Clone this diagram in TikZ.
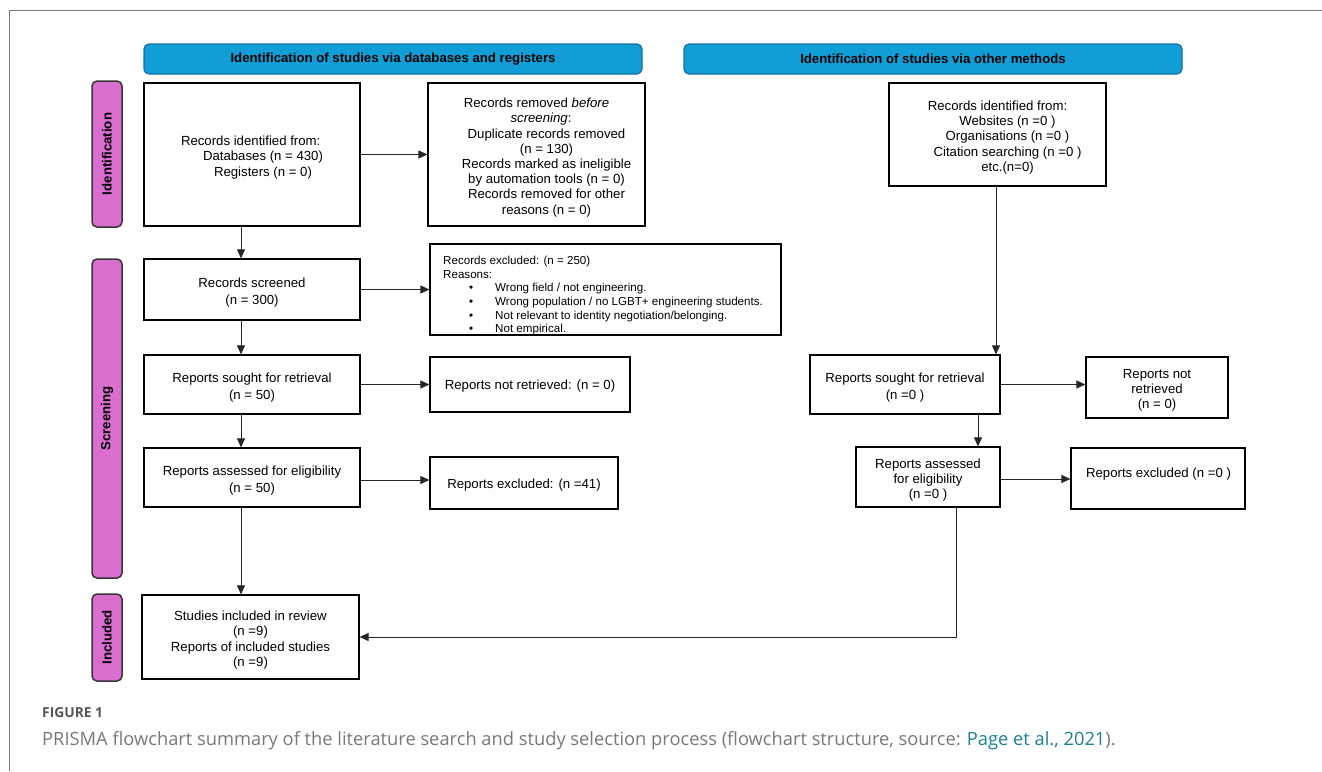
\documentclass[tikz,border=0pt]{standalone}
\usepackage{fontspec}
\setmainfont{Liberation Sans}
\newfontfamily\capfont{Open Sans}
\usetikzlibrary{arrows.meta}
\definecolor{bannerfill}{RGB}{17,158,214}
\definecolor{bannerdraw}{RGB}{20,110,160}
\definecolor{sidefill}{RGB}{217,110,207}
\definecolor{sidedraw}{RGB}{55,55,55}
\definecolor{capgray}{RGB}{120,120,120}
\definecolor{figgray}{RGB}{85,85,85}
\definecolor{linkteal}{RGB}{26,128,150}
\definecolor{framegray}{RGB}{120,120,120}
\tikzset{
  box/.style={draw=black, line width=1.2pt, rectangle, inner sep=0pt, fill=white},
  banner/.style={draw=bannerdraw, fill=bannerfill, line width=1.2pt, rounded corners=5pt,
    minimum width=498pt, minimum height=30pt, inner sep=0pt,
    font=\bfseries\fontsize{13.2}{15}\selectfont},
  sidelbl/.style={draw=sidedraw, fill=sidefill, line width=1.5pt, rounded corners=5pt,
    rotate=90, minimum height=30pt, inner sep=0pt,
    font=\bfseries\fontsize{13.2}{15}\selectfont},
  conn/.style={draw=black!85, line width=0.9pt, -{Triangle[length=9pt,width=8pt]}},
  txt/.style={inner sep=0pt, align=center, font=\fontsize{13.2}{15.2}\selectfont},
}
\begin{document}
\begin{tikzpicture}[x=1pt,y=-1pt]
\useasboundingbox (0,0) rectangle (1322,771);
\draw[framegray, line width=1pt] (1322,10) -- (9,10) -- (9,771);

% banners
\node[banner] (ban1) at (393,59) {Identification of studies via databases and registers};
\node[banner] (ban2) at (933,59) {Identification of studies via other methods};

% side labels
\node[sidelbl, minimum width=146pt] (side1) at (107,154) {Identification};
\node[sidelbl, minimum width=319pt] (side2) at (107,418.5) {Screening};
\node[sidelbl, minimum width=87pt] (side3) at (107,637.5) {Included};

% left column
\node[box, minimum width=216pt, minimum height=143pt] (A) at (252,154.5) {};
\node[txt, align=left] (tA) at ([yshift=-3pt]A.center)
  {Records identified from:\\\hspace*{22pt}Databases (n = 430)\\\hspace*{33pt}Registers (n = 0)};
\node[box, minimum width=217pt, minimum height=143pt] (B) at (536.5,154.5) {};
\node[txt] (tB) at ([yshift=-3pt]B.center)
  {Records removed \textit{before}\\\hspace*{9pt}\textit{screening}:\\
   \hspace*{20pt}Duplicate records removed\\\hspace*{20pt}(n = 130)\\
   \hspace*{20pt}Records marked as ineligible\\\hspace*{20pt}by automation tools (n = 0)\\
   \hspace*{20pt}Records removed for other\\\hspace*{20pt}reasons (n = 0)};
\node[box, minimum width=216pt, minimum height=61pt] (C) at (252,289.5) {};
\node[txt] (tC) at ([yshift=-3pt]C.center) {Records screened\\[2pt](n = 300)};
\node[box, minimum width=351pt, minimum height=91pt] (D) at (605.5,289.5) {};
\begin{scope}
\clip (D.north west) rectangle (D.south east);
\node[inner sep=0pt, anchor=north west, align=left, font=\fontsize{11.6}{13.6}\selectfont] (tD) at (443,256)
  {Records excluded: (n = 250)\\Reasons:\\
   \hspace*{26pt}\makebox[26pt][l]{•}Wrong field / not engineering.\\
   \hspace*{26pt}\makebox[26pt][l]{•}Wrong population / no LGBT+ engineering students.\\
   \hspace*{26pt}\makebox[26pt][l]{•}Not relevant to identity negotiation/belonging.\\
   \hspace*{26pt}\makebox[26pt][l]{•}Not empirical.};
\end{scope}
\draw[black, line width=1.2pt] (D.north west) rectangle (D.south east);
\node[box, minimum width=216pt, minimum height=59pt] (E) at (252,384.5) {};
\node[txt] (tE) at ([yshift=-3pt]E.center) {Reports sought for retrieval\\[2pt](n = 50)};
\node[box, minimum width=200pt, minimum height=55pt] (F) at (530,384.5) {};
\node[txt] (tF) at ([yshift=-2pt]F.center) {Reports not retrieved: (n = 0)};
\node[box, minimum width=216pt, minimum height=59pt] (G) at (252,477.5) {};
\node[txt] (tG) at ([yshift=-3pt]G.center) {Reports assessed for eligibility\\[2pt](n = 50)};
\node[box, minimum width=188pt, minimum height=52pt] (H) at (524,483) {};
\node[txt] (tH) at ([yshift=-2pt]H.center) {Reports excluded: (n =41)};
\node[box, minimum width=217pt, minimum height=84pt] (I) at (250.5,637) {};
\node[txt] (tI) at ([yshift=-3pt]I.center)
  {Studies included in review\\(n =9)\\Reports of included studies\\(n =9)};

% right column
\node[box, minimum width=217pt, minimum height=103pt] (J) at (997.5,134.5) {};
\node[txt] (tJ) at ([yshift=-3pt]J.center)
  {Records identified from:\\\hspace*{20pt}Websites (n =0 )\\\hspace*{20pt}Organisations (n =0 )\\
   \hspace*{20pt}Citation searching (n =0 )\\\hspace*{20pt}etc.(n=0)};
\node[box, minimum width=190pt, minimum height=59pt] (K) at (905,384.5) {};
\node[txt] (tK) at ([yshift=-3pt]K.center) {Reports sought for retrieval\\[1pt](n =0 )};
\node[box, minimum width=142pt, minimum height=61pt] (L) at (1157,387.5) {};
\node[txt] (tL) at ([yshift=-3pt]L.center) {Reports not\\retrieved\\(n = 0)};
\node[box, minimum width=144pt, minimum height=60pt] (M) at (928,477) {};
\node[txt] (tM) at ([yshift=-3pt]M.center) {Reports assessed\\for eligibility\\(n =0 )};
\node[box, minimum width=174pt, minimum height=61pt] (N) at (1158,478.5) {};
\node[txt] (tN) at (1158.5,474) {Reports excluded (n =0 )};

% connectors
\draw[conn] (A.east) -- (B.west);
\draw[conn] ([xshift=-11pt]A.south) -- ([xshift=-11pt]A.south |- C.north);
\draw[conn] (C.east) -- (D.west);
\draw[conn] ([xshift=-11pt]C.south) -- ([xshift=-11pt]C.south |- E.north);
\draw[conn] (E.east) -- (F.west);
\draw[conn] ([xshift=-11pt]E.south) -- ([xshift=-11pt]E.south |- G.north);
\draw[conn] ([yshift=-2.5pt]G.east) -- ([yshift=-2.5pt]G.east -| H.west);
\draw[conn] ([xshift=-11pt]G.south) -- ([xshift=-11pt]G.south |- I.north);
\draw[conn] ([xshift=-1.5pt]J.south) -- ([xshift=-1.5pt]J.south |- K.north);
\draw[conn] (K.east) -- (K.east -| L.west);
\draw[conn] ([xshift=73pt]K.south) -- ([xshift=73pt]K.south |- M.north);
\draw[conn] ([yshift=-2pt]M.east) -- ([yshift=-2pt]M.east -| N.west);
\draw[conn] ([xshift=28pt]M.south) |- (I.east);

% caption
\node[anchor=west, inner sep=0pt, text=figgray, font=\capfont\bfseries\fontsize{13.8}{16}\selectfont] (figlbl) at (42,713) {FIGURE 1};
\node[anchor=west, inner sep=0pt, text=capgray, font=\capfont\fontsize{18.3}{21}\selectfont] (caption) at (42,741)
  {PRISMA flowchart summary of the literature search and study selection process (flowchart structure, source: \textcolor{linkteal}{Page et al., 2021}).};
\end{tikzpicture}
\end{document}
